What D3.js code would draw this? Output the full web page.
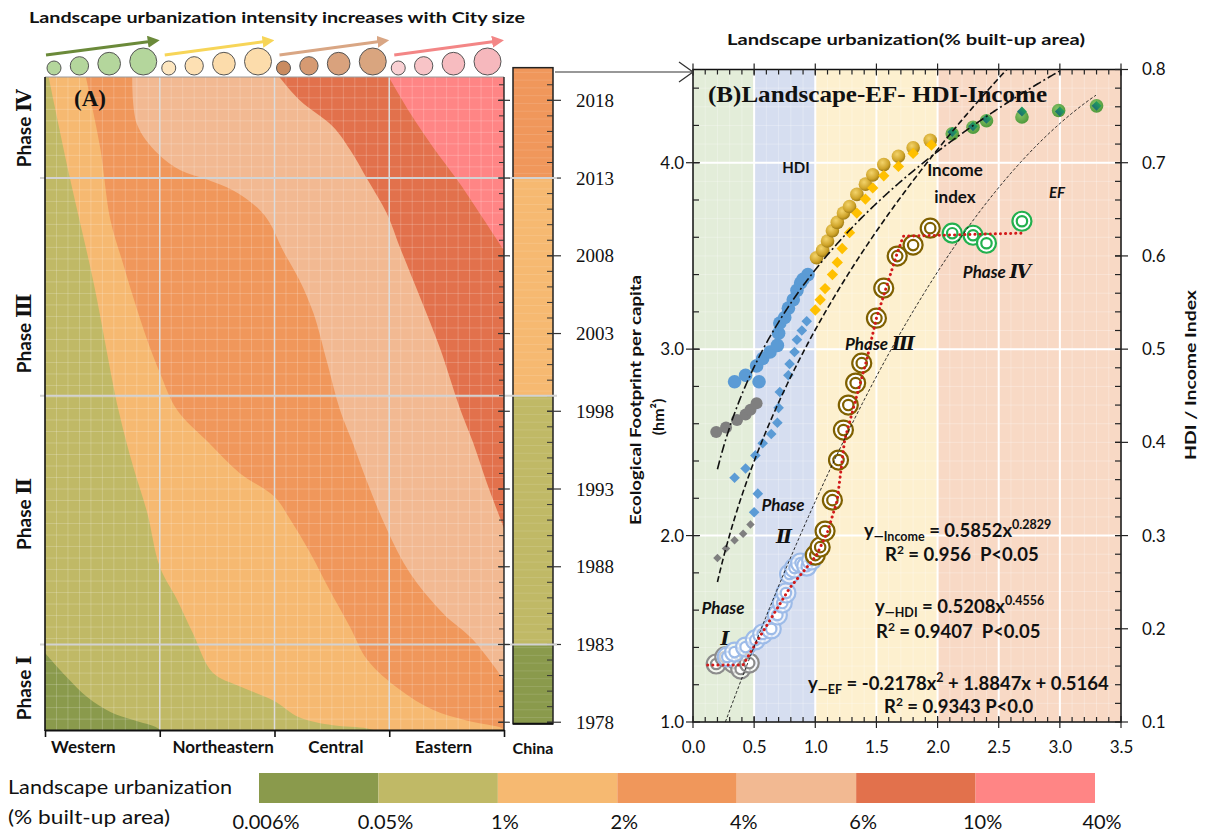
<!DOCTYPE html>
<html>
<head>
<meta charset="utf-8">
<script src="https://cdn.jsdelivr.net/npm/d3@7"></script>
<style>
  body { margin: 0; background: #fff; }
  svg { display: block; }
</style>
</head>
<body>
<svg id="chart" width="1207" height="835" font-family="Lato, 'Open Sans', sans-serif"></svg>
<script>
// ---------------- data ----------------
const regions = ["Western", "Northeastern", "Central", "Eastern"];
const classBreakLabels = ["0.006%", "0.05%", "1%", "2%", "4%", "6%", "10%", "40%"];
const yearTicks = [1978, 1983, 1988, 1993, 1998, 2003, 2008, 2013, 2018];
const phaseBreaks = [1983, 1999, 2013];
const phaseNumerals = ["\u2160", "\u2161", "\u2162", "\u2163"];
const phaseLabelYears = [1980.2, 1991.4, 2003.0, 2016.2];

// class boundaries across the regions: [position along regions (0-4), year]
const boundary01 = [[0, 1982.45], [0.19, 1980.9], [0.37, 1979.6], [0.57, 1978.66], [0.77, 1978.14], [0.98, 1977.63], [1.03, 1977.3]];
const boundary12 = [[0.026, 2019.7], [0.22, 2012.9], [0.42, 2006.4], [0.64, 1998.1], [0.77, 1994.4], [0.89, 1991.5], [1.0, 1988.0], [1.15, 1985.9], [1.29, 1983.7], [1.46, 1981.2], [1.70, 1980.3], [1.99, 1979.4], [2.22, 1978.3], [2.51, 1977.8], [2.81, 1977.6], [2.95, 1977.3]];
const boundary23 = [[0.35, 2019.7], [0.48, 2015.0], [0.57, 2010.3], [0.68, 2007.5], [0.77, 2005.3], [0.89, 2002.6], [1.0, 2000.5], [1.15, 1998.1], [1.41, 1996.1], [1.70, 1994.0], [2.0, 1992.5], [2.14, 1991.0], [2.31, 1988.9], [2.48, 1986.5], [2.66, 1984.1], [2.81, 1982.0], [3.09, 1980.1], [3.38, 1978.8], [3.68, 1978.1], [3.99, 1977.6], [4.03, 1977.3]];
const boundary34 = [[0.76, 2019.7], [0.80, 2016.5], [0.98, 2014.6], [1.18, 2013.5], [1.41, 2012.9], [1.64, 2012.2], [1.85, 2011.1], [1.96, 2010.1], [2.07, 2008.4], [2.22, 2006.4], [2.34, 2004.3], [2.46, 2001.1], [2.57, 1998.1], [2.68, 1996.0], [2.81, 1993.4], [2.98, 1990.4], [3.18, 1987.6], [3.47, 1985.0], [3.73, 1983.3], [4.03, 1980.4]];
const boundary45 = [[2.02, 2019.7], [2.22, 2018.0], [2.51, 2016.3], [2.66, 2014.8], [2.81, 2012.9], [2.98, 2010.7], [3.09, 2008.6], [3.27, 2005.3], [3.44, 2002.1], [3.62, 1998.1], [3.73, 1996.0], [3.85, 1993.4], [4.03, 1989.9]];
const boundary56 = [[2.98, 2019.7], [3.18, 2017.2], [3.38, 2015.0], [3.59, 2012.9], [3.79, 2010.7], [4.03, 2008.0]];
const boundaries = [boundary01, boundary12, boundary23, boundary34, boundary45, boundary56];

// national class by period: [from year, to year, class]
const chinaPeriods = [[1977.9, 1983, 0], [1983, 1999, 1], [1999, 2013, 2], [2013, 2020.1, 3]];

// relative city size within each region
const citySizeRank = [1, 2, 3, 4];

// panel B: landscape urbanization (x) against indices
const circGray = [[0.19, 0.411], [0.27, 0.416], [0.36, 0.424], [0.43, 0.430], [0.47, 0.435], [0.52, 0.442]];
const circBlue = [[0.34, 0.465], [0.43, 0.472], [0.54, 0.465], [0.52, 0.482], [0.57, 0.490], [0.63, 0.497], [0.69, 0.504], [0.70, 0.517], [0.71, 0.528], [0.75, 0.534], [0.78, 0.544], [0.82, 0.553], [0.85, 0.563], [0.88, 0.571], [0.90, 0.575], [0.94, 0.580]];
const circGold = [[1.01, 0.598], [1.06, 0.606], [1.10, 0.616], [1.14, 0.627], [1.18, 0.636], [1.23, 0.646], [1.28, 0.653], [1.34, 0.666], [1.41, 0.677], [1.47, 0.687], [1.56, 0.698], [1.68, 0.707], [1.80, 0.716], [1.94, 0.724]];
const circGreen = [[2.12, 0.731], [2.29, 0.738], [2.40, 0.745], [2.69, 0.749], [2.99, 0.756], [3.30, 0.761]];

const diamGray = [[0.20, 0.276], [0.27, 0.286], [0.34, 0.295], [0.41, 0.302], [0.47, 0.312]];
const diamBlue = [[0.50, 0.325], [0.53, 0.345], [0.34, 0.362], [0.43, 0.372], [0.51, 0.386], [0.57, 0.399], [0.64, 0.409], [0.69, 0.421], [0.70, 0.437], [0.71, 0.454], [0.78, 0.472], [0.79, 0.484], [0.83, 0.497], [0.85, 0.510], [0.89, 0.520], [0.93, 0.530]];
const diamGold = [[1.00, 0.542], [1.04, 0.553], [1.08, 0.565], [1.14, 0.580], [1.18, 0.593], [1.22, 0.608], [1.28, 0.625], [1.34, 0.646], [1.41, 0.661], [1.47, 0.673], [1.56, 0.686], [1.68, 0.696], [1.80, 0.710], [1.95, 0.719]];
const diamGreen = [[2.12, 0.733], [2.29, 0.739], [2.40, 0.747], [2.69, 0.755], [3.00, 0.755], [3.30, 0.761]];

const efGray = [[0.19, 1.311], [0.26, 1.349], [0.33, 1.316], [0.39, 1.284], [0.46, 1.316]];
const efBlue = [[0.28, 1.349], [0.34, 1.375], [0.43, 1.402], [0.51, 1.440], [0.57, 1.472], [0.64, 1.499], [0.69, 1.574], [0.73, 1.638], [0.76, 1.692], [0.79, 1.794], [0.83, 1.826], [0.88, 1.853], [0.93, 1.836], [0.97, 1.869]];
const efBrown = [[1.00, 1.895], [1.04, 1.938], [1.08, 2.024], [1.14, 2.190], [1.19, 2.405], [1.23, 2.566], [1.27, 2.700], [1.33, 2.818], [1.38, 2.925], [1.50, 3.166], [1.56, 3.327], [1.67, 3.499], [1.80, 3.558], [1.94, 3.649]];
const efGreen = [[2.12, 3.622], [2.29, 3.611], [2.40, 3.568], [2.69, 3.686]];
const efSteps = [[0.12, 1.306], [0.41, 1.306], [0.52, 1.429], [0.79, 1.718], [0.96, 1.853], [1.01, 1.895], [1.10, 2.019], [1.18, 2.190], [1.24, 2.512], [1.42, 2.941], [1.50, 3.166], [1.67, 3.515], [1.72, 3.606], [2.69, 3.622]];

// fitted curves: coefficients and x extent
const fitIncome = { a: 0.5852, b: 0.2829, from: 0.2, to: 3.1 };
const fitHDI = { a: 0.5208, b: 0.4556, from: 0.2, to: 2.6 };
const fitEF = { c2: -0.2178, c1: 1.8847, c0: 0.5164, from: 0.265, to: 3.3 };
const zoneStops = [0, 0.5, 1, 2, 3.5];

// ---------------- styles ----------------
const classColors = ["#8a9a4c", "#c0b966", "#f6b971", "#f0975b", "#f2b992", "#e2714c", "#ff8585"];
const zoneColors = ["#e3edd9", "#d6def0", "#fdf0cf", "#f8d9c5"];
const arrowColors = ["#6b8a3a", "#f7d558", "#d9a684", "#f38686"];
const cityFills = [
  ["#b4d69c", "#b4d69c", "#b4d69c", "#b4d69c"],
  ["#fde6bf", "#fde0b3", "#fcdcab", "#fcdcab"],
  ["#c98b60", "#d69a72", "#d9a27d", "#d9a57f"],
  ["#f9d0d3", "#f8c4c7", "#f7bcc0", "#f6b8bd"]
];
const SERIF = "'Liberation Serif', 'DejaVu Serif', serif";
const NARROW = "'Liberation Sans Narrow', Lato, sans-serif";

const svg = d3.select("#chart");
const defs = svg.append("defs");
const classColor = d3.scaleOrdinal().domain(d3.range(7)).range(classColors);

// ================= Panel A =================
const A = { left: 45, right: 504, top: 77, bottom: 730 };
const ax = d3.scaleLinear().domain([0, 4]).range([A.left, A.right]);
const ay = d3.scaleLinear().domain([1977.5, 2019.5]).range([A.bottom, A.top]);

defs.append("clipPath").attr("id", "clipA").append("rect")
  .attr("x", A.left).attr("y", A.top).attr("width", A.right - A.left).attr("height", A.bottom - A.top);

const gA = svg.append("g").attr("clip-path", "url(#clipA)");
gA.append("rect").attr("x", A.left).attr("y", A.top)
  .attr("width", A.right - A.left).attr("height", A.bottom - A.top).attr("fill", classColor(0));

const bLine = d3.line().x(d => ax(d[0])).y(d => ay(d[1])).curve(d3.curveCatmullRom.alpha(0.5));
boundaries.forEach((pts, i) => {
  const first = pts[0], last = pts[pts.length - 1];
  let d = bLine(pts) + `L${ax(4.2)},${ay(last[1])}L${ax(4.2)},${ay(2021)}`;
  if (first[1] < 2019.5) d += `L${ax(-0.2)},${ay(2021)}L${ax(-0.2)},${ay(first[1])}`;
  gA.append("path").attr("d", d + "Z").attr("fill", classColor(i + 1));
});

// fine grid
gA.append("g").selectAll("line").data(d3.range(0.1, 4, 0.1)).join("line")
  .attr("x1", d => ax(d)).attr("x2", d => ax(d)).attr("y1", A.top).attr("y2", A.bottom)
  .attr("stroke", "#fff").attr("stroke-opacity", 0.2).attr("stroke-width", 1);
gA.append("g").selectAll("line").data(d3.range(1978.2, 2019.5, 0.74)).join("line")
  .attr("x1", A.left).attr("x2", A.right).attr("y1", d => ay(d)).attr("y2", d => ay(d))
  .attr("stroke", "#fff").attr("stroke-opacity", 0.2).attr("stroke-width", 1);
// region dividers
gA.append("g").selectAll("line").data([1, 2, 3]).join("line")
  .attr("x1", d => ax(d)).attr("x2", d => ax(d)).attr("y1", A.top).attr("y2", A.bottom)
  .attr("stroke", "#dcdcdc").attr("stroke-width", 1.5);

svg.append("line").attr("x1", A.left).attr("x2", A.right).attr("y1", A.top).attr("y2", A.top)
  .attr("stroke", "#9a9a9a").attr("stroke-width", 1);

// colour bar for China
const CB = { left: 513, right: 553 };
const gCB = svg.append("g");
gCB.selectAll("rect").data(chinaPeriods).join("rect")
  .attr("x", CB.left).attr("width", CB.right - CB.left)
  .attr("y", d => ay(d[1])).attr("height", d => ay(d[0]) - ay(d[1]))
  .attr("fill", d => classColor(d[2]));
gCB.selectAll("line.stripe").data(d3.range(1978.3, 2020, 0.5)).join("line").attr("class", "stripe")
  .attr("x1", CB.left).attr("x2", CB.right).attr("y1", d => ay(d)).attr("y2", d => ay(d))
  .attr("stroke", "#fff").attr("stroke-opacity", 0.12);
gCB.append("rect").attr("x", CB.left).attr("y", ay(2020.1)).attr("width", CB.right - CB.left)
  .attr("height", ay(1977.9) - ay(2020.1)).attr("fill", "none").attr("stroke", "#222").attr("stroke-width", 1.5);
gCB.selectAll("line.minor").data(d3.range(1978, 2020, 1)).join("line").attr("class", "minor")
  .attr("x1", CB.right - 6).attr("x2", CB.right).attr("y1", d => ay(d)).attr("y2", d => ay(d))
  .attr("stroke", "#333").attr("stroke-width", 1);
gCB.selectAll("line.major").data(yearTicks).join("line").attr("class", "major")
  .attr("x1", CB.right - 6).attr("x2", CB.right + 8).attr("y1", d => ay(d)).attr("y2", d => ay(d))
  .attr("stroke", "#333").attr("stroke-width", 1.2);
const cbAxis = svg.append("g").attr("transform", `translate(${CB.right},0)`)
  .call(d3.axisRight(ay).tickValues(yearTicks).tickFormat(d3.format("d")).tickSize(0).tickPadding(23));
cbAxis.select(".domain").remove();
cbAxis.attr("font-family", null).attr("font-size", null);
cbAxis.selectAll("text").attr("font-family", SERIF).attr("font-size", 19).attr("fill", "#111");
svg.append("line").attr("x1", CB.left).attr("x2", CB.right).attr("y1", ay(1977.9)).attr("y2", ay(1977.9))
  .attr("stroke", "#111").attr("stroke-width", 2);
svg.append("text").attr("x", (CB.left + CB.right) / 2).attr("y", 754).attr("text-anchor", "middle")
  .attr("font-weight", 700).attr("font-size", 16).attr("fill", "#111").text("China");

// phase separators
svg.append("g").selectAll("line").data(phaseBreaks).join("line")
  .attr("x1", 40).attr("x2", 557).attr("y1", d => ay(d)).attr("y2", d => ay(d))
  .attr("stroke", "#d2d2d2").attr("stroke-width", 2);

// panel A frame and axes
svg.append("line").attr("x1", A.left).attr("x2", A.left).attr("y1", A.top).attr("y2", A.bottom + 1)
  .attr("stroke", "#111").attr("stroke-width", 1.6);
svg.append("line").attr("x1", A.right).attr("x2", A.right).attr("y1", A.top).attr("y2", A.bottom)
  .attr("stroke", "#222").attr("stroke-width", 1.4);
svg.append("g").selectAll("line").data(d3.range(1978, 2020, 1)).join("line")
  .attr("x1", A.right - 5).attr("x2", A.right).attr("y1", d => ay(d)).attr("y2", d => ay(d))
  .attr("stroke", "#333").attr("stroke-width", 1);
svg.append("g").selectAll("line").data(yearTicks).join("line")
  .attr("x1", A.right - 6).attr("x2", A.right + 6).attr("y1", d => ay(d)).attr("y2", d => ay(d))
  .attr("stroke", "#333").attr("stroke-width", 1.2);
const axA = svg.append("g").attr("transform", `translate(0,${A.bottom})`)
  .call(d3.axisBottom(ax).tickValues([0, 1, 2, 3, 4]).tickFormat("").tickSize(7).tickSizeOuter(0));
axA.select(".domain").attr("stroke", "#111").attr("stroke-width", 2);
axA.selectAll(".tick line").attr("stroke", "#111").attr("stroke-width", 1.6);
const regionNudge = [-19, 6, 4, -3];
svg.append("g").selectAll("text").data(regions).join("text")
  .attr("x", (d, i) => ax(i + 0.5) + regionNudge[i]).attr("y", 753).attr("text-anchor", "middle")
  .attr("font-weight", 700).attr("font-size", 17).attr("fill", "#111").text(d => d);

// phase labels
const phaseLab = svg.append("g").selectAll("text").data(phaseNumerals).join("text")
  .attr("transform", (d, i) => `translate(31,${ay(phaseLabelYears[i])}) rotate(-90)`)
  .attr("text-anchor", "middle").attr("font-weight", 700).attr("font-size", 19).attr("fill", "#111");
phaseLab.append("tspan").text("Phase ");
phaseLab.append("tspan").attr("font-family", SERIF).attr("font-size", 20).text(d => d);

svg.append("text").attr("x", 74).attr("y", 106).attr("font-family", SERIF)
  .attr("font-weight", 700).attr("font-size", 23).attr("fill", "#111").text("(A)");

// city size circles and arrows
svg.append("text").attr("x", 29).attr("y", 23).attr("font-weight", 700).attr("font-size", 15.5)
  .attr("textLength", 496).attr("lengthAdjust", "spacingAndGlyphs").attr("fill", "#111")
  .text("Landscape urbanization intensity increases with City size");

const rScale = d3.scaleLinear().domain([1, 4]).range([7, 13.5]);
regions.forEach((reg, gi) => {
  const x0 = ax(gi) + 2, x1 = ax(gi + 1) - 3;
  const radii = citySizeRank.map(rScale);
  const gap = (x1 - x0 - d3.sum(radii) * 2) / (radii.length - 1);
  let cx = x0;
  const centers = radii.map(r => { const c = cx + r; cx += 2 * r + gap; return c; });
  svg.append("g").selectAll("circle").data(radii).join("circle")
    .attr("cx", (r, i) => centers[i]).attr("cy", r => 75 - r).attr("r", r => r)
    .attr("fill", (r, i) => cityFills[gi][i]).attr("stroke", "#555").attr("stroke-width", 1);
  const mid = `ah${gi}`;
  defs.append("marker").attr("id", mid).attr("viewBox", "0 0 10 10").attr("refX", 5).attr("refY", 5)
    .attr("markerWidth", 4).attr("markerHeight", 4).attr("orient", "auto")
    .append("path").attr("d", "M0,0L10,5L0,10Z").attr("fill", arrowColors[gi]);
  svg.append("line").attr("x1", ax(gi) + (gi === 0 ? 1 : 5)).attr("y1", 55)
    .attr("x2", ax(gi + 1) - 6).attr("y2", 41)
    .attr("stroke", arrowColors[gi]).attr("stroke-width", 3).attr("marker-end", `url(#${mid})`);
});

// ================= Panel B =================
const B = { left: 693, right: 1121, top: 69.5, bottom: 722 };
const bx = d3.scaleLinear().domain([0, 3.5]).range([B.left, B.right]);
const yEF = d3.scaleLinear().domain([1, 4.5]).range([B.bottom, B.top]);
const yIdx = d3.scaleLinear().domain([0.1, 0.8]).range([B.bottom, B.top]);

defs.append("clipPath").attr("id", "clipB").append("rect")
  .attr("x", B.left).attr("y", B.top).attr("width", B.right - B.left).attr("height", B.bottom - B.top);

const gB = svg.append("g").attr("clip-path", "url(#clipB)");
gB.selectAll("rect.zone").data(d3.pairs(zoneStops)).join("rect").attr("class", "zone")
  .attr("x", d => bx(d[0])).attr("width", d => bx(d[1]) - bx(d[0]))
  .attr("y", B.top).attr("height", B.bottom - B.top).attr("fill", (d, i) => zoneColors[i]);
gB.append("g").selectAll("line").data(d3.range(0.1, 3.5, 0.1)).join("line")
  .attr("x1", d => bx(d)).attr("x2", d => bx(d)).attr("y1", B.top).attr("y2", B.bottom)
  .attr("stroke", "#fff").attr("stroke-opacity", 0.35).attr("stroke-width", 0.8);
gB.append("g").selectAll("line").data(d3.range(1.1, 4.5, 0.1)).join("line")
  .attr("x1", B.left).attr("x2", B.right).attr("y1", d => yEF(d)).attr("y2", d => yEF(d))
  .attr("stroke", "#fff").attr("stroke-opacity", 0.35).attr("stroke-width", 0.8);
gB.append("g").selectAll("line").data(d3.range(0.5, 3.1, 0.5)).join("line")
  .attr("x1", d => bx(d)).attr("x2", d => bx(d)).attr("y1", B.top).attr("y2", B.bottom)
  .attr("stroke", "#fff").attr("stroke-width", 2);
gB.append("g").selectAll("line").data([2, 3, 4]).join("line")
  .attr("x1", B.left).attr("x2", B.right).attr("y1", d => yEF(d)).attr("y2", d => yEF(d))
  .attr("stroke", "#fff").attr("stroke-width", 2);

// gradients for the shaded markers
const gGold = defs.append("radialGradient").attr("id", "gold").attr("cx", "40%").attr("cy", "35%").attr("r", "65%");
gGold.append("stop").attr("offset", "0%").attr("stop-color", "#f3d36a");
gGold.append("stop").attr("offset", "70%").attr("stop-color", "#cfa42a");
gGold.append("stop").attr("offset", "100%").attr("stop-color", "#9e7b14");
const gGreen = defs.append("radialGradient").attr("id", "greenball").attr("cx", "40%").attr("cy", "35%").attr("r", "65%");
gGreen.append("stop").attr("offset", "0%").attr("stop-color", "#86c266");
gGreen.append("stop").attr("offset", "100%").attr("stop-color", "#4f9a3c");
const gGD = defs.append("linearGradient").attr("id", "greendiam").attr("x1", "0").attr("y1", "0").attr("x2", "0").attr("y2", "1");
gGD.append("stop").attr("offset", "0%").attr("stop-color", "#22a05a");
gGD.append("stop").attr("offset", "100%").attr("stop-color", "#1d6e74");

const gM = svg.append("g");
function rings(data, color, innerFill) {
  const g = gM.append("g");
  const sel = g.selectAll("g").data(data).join("g")
    .attr("transform", d => `translate(${bx(d[0])},${yEF(d[1])})`);
  sel.append("circle").attr("r", 9.5).attr("fill", innerFill).attr("stroke", color).attr("stroke-width", 2.2);
  sel.append("circle").attr("r", 5.2).attr("fill", "#fff").attr("stroke", color).attr("stroke-width", 2.2);
}
function dots(data, fill, r) {
  gM.append("g").selectAll("circle").data(data).join("circle")
    .attr("cx", d => bx(d[0])).attr("cy", d => yIdx(d[1])).attr("r", r).attr("fill", fill);
}
function diamonds(data, fill, side) {
  const sym = d3.symbol().type(d3.symbolSquare).size(side * side);
  gM.append("g").selectAll("path").data(data).join("path")
    .attr("d", sym).attr("fill", fill)
    .attr("transform", d => `translate(${bx(d[0])},${yIdx(d[1])}) rotate(45)`);
}

rings(efGray, "#8c8c8c", "rgba(255,255,255,0.6)");
rings(efBlue, "#9dbbe8", "rgba(255,255,255,0.55)");
rings(efBrown, "#7f6000", "#fff");
rings(efGreen, "#22b04e", "#fff");

dots(circGray, "#7f7f7f", 6);
dots(circBlue, "#5b9bd5", 6.8);
dots(circGold, "url(#gold)", 6.8);
dots(circGreen, "url(#greenball)", 6.8);
diamonds(diamGray, "#7f7f7f", 6);
diamonds(diamBlue, "#5b9bd5", 7.5);
diamonds(diamGold, "#ffc000", 8);
diamonds(diamGreen, "url(#greendiam)", 7);

// piecewise EF trajectory
gM.append("path").datum(efSteps)
  .attr("d", d3.line().x(d => bx(d[0])).y(d => yEF(d[1])))
  .attr("fill", "none").attr("stroke", "#d21a1a").attr("stroke-width", 3)
  .attr("stroke-linecap", "round").attr("stroke-dasharray", "0.1,5");

// fitted curves
const gFit = svg.append("g").attr("clip-path", "url(#clipB)");
const powerPts = f => d3.range(f.from, f.to + 1e-9, 0.01).map(x => [x, f.a * Math.pow(x, f.b)]);
const quadPts = f => d3.range(f.from, f.to + 1e-9, 0.01).map(x => [x, f.c2 * x * x + f.c1 * x + f.c0]);
gFit.append("path").datum(powerPts(fitIncome))
  .attr("d", d3.line().x(d => bx(d[0])).y(d => yIdx(d[1])))
  .attr("fill", "none").attr("stroke", "#111").attr("stroke-width", 1.6).attr("stroke-dasharray", "9,3,2,3");
gFit.append("path").datum(powerPts(fitHDI))
  .attr("d", d3.line().x(d => bx(d[0])).y(d => yIdx(d[1])))
  .attr("fill", "none").attr("stroke", "#111").attr("stroke-width", 1.6).attr("stroke-dasharray", "6,3");
gFit.append("path").datum(quadPts(fitEF))
  .attr("d", d3.line().x(d => bx(d[0])).y(d => yEF(d[1])))
  .attr("fill", "none").attr("stroke", "#111").attr("stroke-width", 0.9).attr("stroke-dasharray", "3,2");

// frame and ticks
svg.append("rect").attr("x", B.left).attr("y", B.top).attr("width", B.right - B.left)
  .attr("height", B.bottom - B.top).attr("fill", "none").attr("stroke", "#111").attr("stroke-width", 1.5);
const tk = svg.append("g").attr("stroke", "#222").attr("stroke-width", 1.2);
const xMinor = d3.range(0.1, 3.5, 0.1), xMajor = d3.range(0, 3.51, 0.5);
tk.selectAll("line.xb").data(xMinor).join("line").attr("class", "xb")
  .attr("x1", d => bx(d)).attr("x2", d => bx(d)).attr("y1", B.bottom - 5).attr("y2", B.bottom);
tk.selectAll("line.xbm").data(xMajor).join("line").attr("class", "xbm")
  .attr("x1", d => bx(d)).attr("x2", d => bx(d)).attr("y1", B.bottom - 6).attr("y2", B.bottom + 6);
tk.selectAll("line.xt").data(xMinor).join("line").attr("class", "xt")
  .attr("x1", d => bx(d)).attr("x2", d => bx(d)).attr("y1", B.top).attr("y2", B.top + 5);
tk.selectAll("line.xtm").data(xMajor).join("line").attr("class", "xtm")
  .attr("x1", d => bx(d)).attr("x2", d => bx(d)).attr("y1", B.top - 6).attr("y2", B.top + 6);
tk.selectAll("line.yl").data(d3.range(1.2, 4.5, 0.2)).join("line").attr("class", "yl")
  .attr("x1", B.left).attr("x2", B.left + 6).attr("y1", d => yEF(d)).attr("y2", d => yEF(d));
tk.selectAll("line.ylm").data([1, 2, 3, 4]).join("line").attr("class", "ylm")
  .attr("x1", B.left - 7).attr("x2", B.left + 7).attr("y1", d => yEF(d)).attr("y2", d => yEF(d));
tk.selectAll("line.yr").data(d3.range(0.12, 0.8, 0.02)).join("line").attr("class", "yr")
  .attr("x1", B.right - 6).attr("x2", B.right).attr("y1", d => yIdx(d)).attr("y2", d => yIdx(d));
tk.selectAll("line.yrm").data(d3.range(0.1, 0.81, 0.1)).join("line").attr("class", "yrm")
  .attr("x1", B.right - 6).attr("x2", B.right + 7).attr("y1", d => yIdx(d)).attr("y2", d => yIdx(d));

function labelAxis(g) {
  g.select(".domain").remove();
  g.attr("font-family", null).attr("font-size", null);
  g.selectAll("text").attr("font-size", 17).attr("fill", "#111");
}
svg.append("g").attr("transform", `translate(0,${B.bottom})`)
  .call(d3.axisBottom(bx).tickValues(xMajor).tickFormat(d3.format(".1f")).tickSize(0).tickPadding(19)).call(labelAxis);
svg.append("g").attr("transform", `translate(${B.left},0)`)
  .call(d3.axisLeft(yEF).tickValues([1, 2, 3, 4]).tickFormat(d3.format(".1f")).tickSize(0).tickPadding(9)).call(labelAxis);
svg.append("g").attr("transform", `translate(${B.right},0)`)
  .call(d3.axisRight(yIdx).tickValues(d3.range(0.1, 0.81, 0.1)).tickFormat(d3.format(".1f")).tickSize(0).tickPadding(21)).call(labelAxis);

// axis titles
svg.append("text").attr("x", 906).attr("y", 45).attr("text-anchor", "middle").attr("font-weight", 700)
  .attr("font-size", 15).attr("textLength", 358).attr("lengthAdjust", "spacingAndGlyphs").attr("fill", "#111")
  .text("Landscape urbanization(% built-up area)");
svg.append("text").attr("transform", "translate(641,400) rotate(-90)").attr("text-anchor", "middle")
  .attr("font-weight", 700).attr("font-size", 16).attr("textLength", 250).attr("lengthAdjust", "spacingAndGlyphs")
  .attr("fill", "#111").text("Ecological Footprint per capita");
svg.append("text").attr("transform", "translate(664,417) rotate(-90)").attr("text-anchor", "middle")
  .attr("font-weight", 700).attr("font-size", 16).attr("fill", "#111").text("(hm\u00b2)");
svg.append("text").attr("transform", "translate(1196,375) rotate(-90)").attr("text-anchor", "middle")
  .attr("font-weight", 700).attr("font-size", 16).attr("textLength", 170).attr("lengthAdjust", "spacingAndGlyphs")
  .attr("fill", "#111").text("HDI / Income Index");

// connector arrow from the colour bar
svg.append("path").attr("d", "M555,72H692").attr("stroke", "#333").attr("stroke-width", 1.2).attr("fill", "none");
svg.append("path").attr("d", "M679,62L693,72L679,82").attr("stroke", "#333").attr("stroke-width", 1.3).attr("fill", "none");

// panel B annotations
svg.append("text").attr("x", 708).attr("y", 102).attr("font-family", SERIF)
  .attr("font-weight", 700).attr("font-size", 24).attr("textLength", 339).attr("lengthAdjust", "spacingAndGlyphs")
  .attr("fill", "#111").text("(B)Landscape-EF- HDI-Income");

const ann = svg.append("g").attr("fill", "#111").attr("font-weight", 700);
ann.append("text").attr("x", 796).attr("y", 173).attr("text-anchor", "middle").attr("font-size", 15).text("HDI");
ann.append("text").attr("x", 955).attr("y", 176).attr("text-anchor", "middle").attr("font-size", 17).text("Income");
ann.append("text").attr("x", 955).attr("y", 203).attr("text-anchor", "middle").attr("font-size", 17).text("index");
ann.append("text").attr("x", 1057).attr("y", 198).attr("text-anchor", "middle").attr("font-size", 15)
  .attr("font-style", "italic").text("EF");

function phaseText(x, y, label, numeral) {
  const t = ann.append("text").attr("x", x).attr("y", y).attr("text-anchor", "middle")
    .attr("font-size", 17).attr("font-style", "italic");
  if (label) t.append("tspan").text(label);
  if (numeral) t.append("tspan").attr("font-family", SERIF).attr("font-size", 19).text(numeral);
}
phaseText(997, 278, "Phase ", "\u2163");
phaseText(880, 350, "Phase ", "\u2162");
phaseText(783, 511, "Phase", null);
phaseText(784, 543, null, "\u2161");
phaseText(723, 614, "Phase", null);
phaseText(725, 645, null, "\u2160");

function equation(x, y, sub, body, sup, tail) {
  const t = ann.append("text").attr("x", x).attr("y", y).attr("font-size", 18.5);
  t.append("tspan").text("y");
  t.append("tspan").attr("font-size", 12.5).attr("dy", 4).text("\u2014" + sub);
  t.append("tspan").attr("dy", -4).text(" " + body);
  if (sup) t.append("tspan").attr("font-size", 12.5).attr("dy", -8).text(sup);
  if (tail) t.append("tspan").attr("dy", sup ? 8 : 0).text(tail);
}
function rsq(x, y, text) {
  const t = ann.append("text").attr("x", x).attr("y", y).attr("font-size", 18.5);
  t.append("tspan").text("R");
  t.append("tspan").attr("font-size", 12).attr("dy", -7).text("2");
  t.append("tspan").attr("dy", 7).text(text);
}
equation(864, 537, "Income", "= 0.5852x", "0.2829", null);
rsq(885, 561, " = 0.956\u00a0\u00a0P<0.05");
equation(875, 613, "HDI", "= 0.5208x", "0.4556", null);
rsq(876, 638, " = 0.9407\u00a0\u00a0P<0.05");
equation(808, 690, "EF", "= -0.2178x", "2", " + 1.8847x + 0.5164");
rsq(884, 713, " = 0.9343 P<0.0");

// ================= class legend =================
const lg = { left: 259, right: 1095, top: 773, height: 30 };
const lx = d3.scaleBand().domain(d3.range(7)).range([lg.left, lg.right]).paddingInner(0);
svg.append("g").selectAll("rect").data(d3.range(7)).join("rect")
  .attr("x", d => lx(d)).attr("y", lg.top).attr("width", lx.bandwidth()).attr("height", lg.height)
  .attr("fill", d => classColor(d));
const lbx = d3.scaleLinear().domain([0, 7]).range([lg.left, lg.right]);
svg.append("g").selectAll("text").data(classBreakLabels).join("text")
  .attr("x", (d, i) => lbx(i) + 7).attr("y", 829).attr("text-anchor", "middle")
  .attr("font-family", NARROW).attr("font-size", 20).attr("fill", "#111").text(d => d);
svg.append("text").attr("x", 8).attr("y", 794).attr("font-family", NARROW)
  .attr("font-size", 20).attr("textLength", 224).attr("lengthAdjust", "spacingAndGlyphs").attr("fill", "#111")
  .text("Landscape urbanization");
svg.append("text").attr("x", 8).attr("y", 824).attr("font-family", NARROW)
  .attr("font-size", 20).attr("textLength", 162).attr("lengthAdjust", "spacingAndGlyphs").attr("fill", "#111")
  .text("(% built-up area)");
</script>
</body>
</html>
